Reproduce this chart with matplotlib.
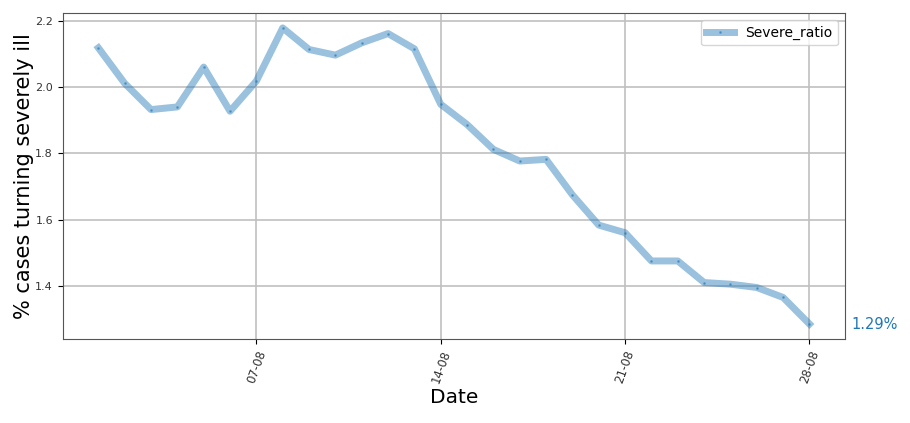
import pandas as pd
import matplotlib
matplotlib.use("Agg")
import matplotlib.pyplot as plt
import matplotlib.dates as mdates

# Daily share of cases turning severely ill, August
dates = pd.date_range("2020-08-01", "2020-08-28", freq="D")
severe_ratio = [2.118, 2.011, 1.932, 1.940, 2.060, 1.927, 2.018, 2.178,
                2.113, 2.096, 2.133, 2.161, 2.115, 1.948, 1.887, 1.812,
                1.777, 1.782, 1.675, 1.584, 1.561, 1.476, 1.476, 1.411,
                1.406, 1.396, 1.366, 1.286]
tick_dates = pd.to_datetime(["2020-08-07", "2020-08-14", "2020-08-21", "2020-08-28"])

fig = plt.figure(figsize=(9.1, 4.23), dpi=100)
ax = fig.add_axes([0.069, 0.199, 0.8596, 0.770])

ax.plot(dates, severe_ratio, color="#1f77b4", alpha=0.45, linewidth=5,
        marker=".", markersize=2, label="Severe_ratio")

ax.annotate(f"{severe_ratio[-1]:.2f}%", xy=(dates[-1], severe_ratio[-1]),
            xytext=(30, 0), textcoords="offset points", va="center",
            color="#1f77b4", fontsize=10.5)

ax.set_xticks(tick_dates)
ax.xaxis.set_major_formatter(mdates.DateFormatter("%d-%m"))
plt.setp(ax.get_xticklabels(), rotation=70, fontsize=8.5, color="#333333")
ax.tick_params(axis="y", labelsize=8, labelcolor="#333333")

ax.grid(True, color="#c0c0c0", linewidth=1.2)
ax.set_axisbelow(True)
for s in ax.spines.values():
    s.set_color("#555555")

ax.set_xlabel("Date", fontsize=14.5, labelpad=2)
ax.set_ylabel("% cases turning severely ill", fontsize=15, labelpad=1)
ax.legend(loc="upper right", fontsize=10)

fig.savefig("out.png", dpi=100)
